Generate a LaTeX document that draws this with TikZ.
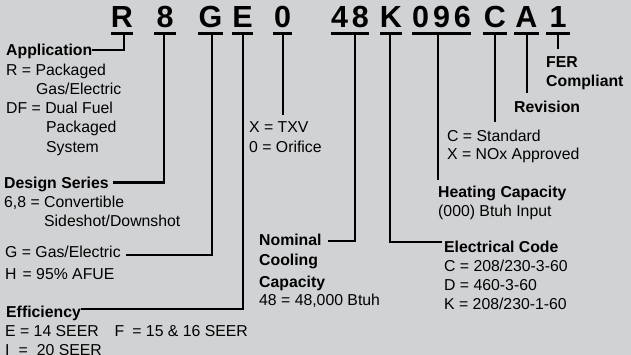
\documentclass[tikz,border=0pt]{standalone}
\usepackage{fontspec}
\setmainfont{Liberation Sans}
\definecolor{bg}{RGB}{209,210,212}
\begin{document}
\begin{tikzpicture}[x=1pt,y=-1pt,
  txt/.style={anchor=west, inner sep=0pt, text height=11.3pt, text depth=0pt, font=\fontsize{15.8}{19}\selectfont},
  hd/.style={txt, font=\fontsize{15.8}{19}\selectfont\bfseries},
  code/.style={anchor=base, inner ysep=0pt, inner xsep=0pt, font=\fontsize{30.5}{32}\selectfont\bfseries},
  bar/.style={line width=3pt},
  lead/.style={line width=2.5pt}]
\fill[bg] (0,0) rectangle (631,355);
\useasboundingbox (0,0) rectangle (631,355);

% code characters
\node[code] (cR) at (122,28) {R};
\node[code, inner xsep=2.5pt] (c8) at (165,28) {8};
\node[code] (cG) at (210.5,28) {G};
\node[code] (cE) at (242.5,28) {E};
\node[code, inner xsep=1pt] (c0) at (282.5,28) {0};
\node[code] (c48) at (350,28) {4\kern4pt8};
\node[code] (cK) at (391,28) {K};
\node[code] (c096) at (441.5,28) {0\kern4pt9\kern4pt6};
\node[code, inner xsep=1pt] (cC) at (495,28) {C};
\node[code, inner xsep=1pt] (cA) at (526.5,28) {A};
\node[code, inner xsep=3.5pt] (c1) at (558,28) {1};

\foreach \n in {cR,c8,cG,cE,c0,c48,cK,c096,cC,cA,c1}
  \draw[bar] ([yshift=-5.5pt]\n.base west) -- ([yshift=-5.5pt]\n.base east);

% labels
\node[hd] (app) at (6,50) {Application};
\node[txt] (app1) at (6,70) {R = Packaged};
\node[txt] (app2) at (36,89) {Gas/Electric};
\node[txt] (app3) at (6,108) {DF = Dual Fuel};
\node[txt] (app4) at (46,127) {Packaged};
\node[txt] (app5) at (46,147) {System};
\node[hd] (ds) at (4,182.5) {Design Series};
\node[txt] (ds1) at (4,202) {6,8 = Convertible};
\node[txt] (ds2) at (44,221) {Sideshot/Downshot};
\node[txt] (ge) at (5,252) {G = Gas/Electric};
\node[txt] (ge2) at (5,274) {H\hspace{6pt}= 95\% AFUE};
\node[hd] (eff) at (6,312) {Efficiency};
\node[txt] (eff1) at (5,331) {E = 14 SEER\hspace{16pt}F\hspace{8pt}= 15 \& 16 SEER};
\node[txt] (eff2) at (5,350) {I\hspace{9pt}=\hspace{9pt}20 SEER};
\node[txt] (tx1) at (249,127) {X = TXV};
\node[txt] (tx2) at (249,147) {0 = Orifice};
\node[hd] (nom1) at (259,240) {Nominal};
\node[hd] (nom2) at (259,260) {Cooling};
\node[hd] (nom3) at (259,282) {Capacity};
\node[txt] (nom4) at (259,300) {48 = 48,000 Btuh};
\node[hd] (hc) at (438,192) {Heating Capacity};
\node[txt] (hc1) at (438,211) {(000) Btuh Input};
\node[hd] (el) at (444,247) {Electrical Code};
\node[txt] (el1) at (444,266) {C = 208/230-3-60};
\node[txt] (el2) at (444,285) {D = 460-3-60};
\node[txt] (el3) at (444,304) {K = 208/230-1-60};
\node[txt] (st1) at (447,136) {C = Standard};
\node[txt] (st2) at (447,154) {X = NOx Approved};
\node[hd] (rev) at (514,107) {Revision};
\node[hd] (fer1) at (546,62) {FER};
\node[hd] (fer2) at (546,81) {Compliant};

% leaders
\draw[lead] ([xshift=2pt,yshift=-5.5pt]cR.base) |- (app.east);
\draw[lead, shorten >=4.5pt] ([xshift=-1pt,yshift=-5.5pt]c8.base) |- (ds.east);
\draw[lead, shorten >=5pt] ([xshift=1.5pt,yshift=-5.5pt]cG.base) |- ([yshift=-3pt]ge.east);
\draw[lead] ([xshift=0.5pt,yshift=-5.5pt]cE.base) |- ([yshift=3pt]eff.east);
\coordinate (e0) at (283,115);
\draw[lead] ([yshift=-5.5pt]c0.base -| e0) -- (e0);
\draw[lead, shorten >=6pt] ([xshift=5pt,yshift=-5.5pt]c48.base) |- ([yshift=-1pt]nom1.east);
\draw[lead, shorten >=2pt] ([xshift=-1pt,yshift=-5.5pt]cK.base) |- ([yshift=5pt]el.west);
\coordinate (e096) at (438,180);
\draw[lead] ([yshift=-5.5pt]c096.base -| e096) -- (e096);
\coordinate (eC) at (495,122);
\draw[lead] ([yshift=-5.5pt]cC.base -| eC) -- (eC);
\coordinate (eA) at (527,93);
\draw[lead] ([yshift=-5.5pt]cA.base -| eA) -- (eA);
\coordinate (e1) at (558,49);
\draw[lead] ([yshift=-5.5pt]c1.base -| e1) -- (e1);
\end{tikzpicture}
\end{document}
